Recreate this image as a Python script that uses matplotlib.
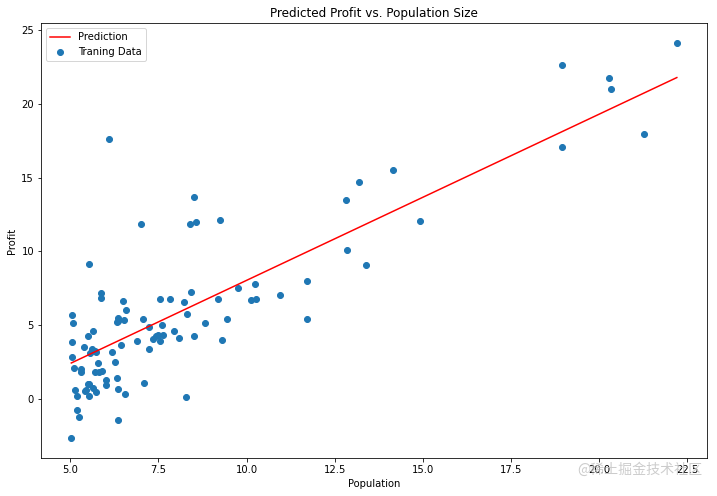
import numpy as np
import matplotlib
matplotlib.use('Agg')
import matplotlib.pyplot as plt

# training data: population (10,000s) vs profit ($10,000s)
population = [6.1101, 5.5277, 8.5186, 7.0032, 5.8598, 8.3829, 7.4764, 8.5781, 6.4862, 5.0546,
              5.7107, 14.164, 5.734, 8.4084, 5.6407, 5.3794, 6.3654, 5.1301, 6.4296, 7.0708,
              6.1891, 20.27, 5.4901, 6.3261, 5.5649, 18.945, 12.828, 10.957, 13.176, 22.203,
              5.2524, 6.5894, 9.2482, 5.8918, 8.2111, 7.9334, 8.0959, 5.6063, 12.836, 6.3534,
              5.4069, 6.8825, 11.708, 5.7737, 7.8247, 7.0931, 5.0702, 5.8014, 11.7, 5.5416,
              7.5402, 5.3077, 7.4239, 7.6031, 6.3328, 6.3589, 6.2742, 5.6397, 9.3102, 9.4536,
              8.8254, 5.1793, 21.279, 14.908, 18.959, 7.2182, 8.2951, 10.236, 5.4994, 20.341,
              10.136, 7.3345, 6.0062, 7.2259, 5.0269, 6.5479, 7.5386, 5.0365, 10.274, 5.1077,
              5.7292, 5.1884, 6.3557, 9.7687, 6.5159, 8.5172, 9.1802, 6.002, 5.5204, 5.0594,
              5.7077, 7.6366, 5.8707, 5.3054, 8.2934, 13.394, 5.4369]
profit = [17.592, 9.1302, 13.662, 11.854, 6.8233, 11.886, 4.3483, 12.0, 6.5987, 3.8166,
          3.2522, 15.505, 3.1551, 7.2258, 0.71618, 3.5129, 5.3048, 0.56077, 3.6518, 5.3893,
          3.1386, 21.767, 4.263, 5.1875, 3.0825, 22.638, 13.501, 7.0467, 14.692, 24.147,
          -1.22, 5.9966, 12.134, 1.8495, 6.5426, 4.5623, 4.1164, 3.3928, 10.117, 5.4974,
          0.55657, 3.9115, 5.3854, 2.4406, 6.7318, 1.0463, 5.1337, 1.844, 8.0043, 1.0179,
          6.7504, 1.8396, 4.2885, 4.9981, 1.4233, -1.4211, 2.4756, 4.6042, 3.9624, 5.4141,
          5.1694, -0.74279, 17.929, 12.054, 17.054, 4.8852, 5.7442, 7.7754, 1.0173, 20.992,
          6.6799, 4.0259, 1.2784, 3.3411, -2.6807, 0.29678, 3.8845, 5.7014, 6.7526, 2.0576,
          0.47953, 0.20421, 0.67861, 7.5435, 5.3436, 4.2415, 6.7981, 0.92695, 0.152, 2.8214,
          1.8451, 4.2959, 7.2029, 1.9869, 0.14454, 9.0551, 0.61705]

# fitted parameters (gradient descent result)
theta0, theta1 = -3.24140214, 1.1272942

x = np.linspace(min(population), max(population), 100)
f = theta0 + theta1 * x

fig = plt.figure(figsize=(717 / 72, 496 / 72), dpi=72)
ax = fig.add_axes([0.0572, 0.0766, 0.929, 0.877])
ax.plot(x, f, 'r', label='Prediction')
ax.scatter(population, profit, label='Traning Data')
ax.legend(loc=2)
ax.set_xlabel('Population')
ax.set_ylabel('Profit')
ax.set_title('Predicted Profit vs. Population Size')

# site watermark in the bottom right corner (sits over the tick labels, as in the source)
fig.text(0.979, 0.053, '@稀土掘金技术社区', ha='right', va='center', fontsize=14,
         color='#c4c4c4', alpha=0.85, family=['Noto Sans CJK SC', 'DejaVu Sans'])

fig.savefig('out.png', dpi=72)
